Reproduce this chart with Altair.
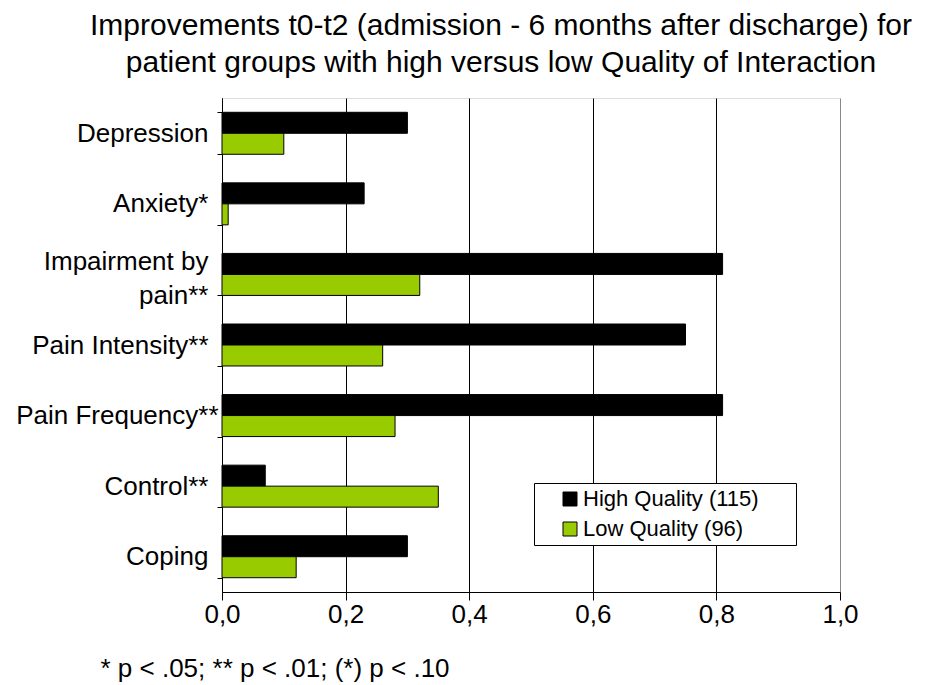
import altair as alt
import pandas as pd

categories = ["Depression", "Anxiety*", "Impairment by pain**", "Pain Intensity**",
              "Pain Frequency**", "Control**", "Coping"]
high_values = [0.30, 0.23, 0.81, 0.75, 0.81, 0.07, 0.30]
low_values = [0.10, 0.01, 0.32, 0.26, 0.28, 0.35, 0.12]
series = ["High Quality (115)", "Low Quality (96)"]
series_colors = ["#000000", "#99CC00"]
x_ticks = [0.0, 0.2, 0.4, 0.6, 0.8, 1.0]
title_lines = ["Improvements t0-t2 (admission - 6 months after discharge) for",
               "patient groups with high versus low Quality of Interaction"]
footnote = "* p < .05; ** p < .01; (*) p < .10"

rows = []
for c, h, l in zip(categories, high_values, low_values):
    rows.append({"category": c, "group": series[0], "value": h})
    rows.append({"category": c, "group": series[1], "value": l})
df = pd.DataFrame(rows)

FONT = "Liberation Sans"

chart = alt.Chart(df).mark_bar(stroke="black", strokeWidth=1).encode(
    x=alt.X(
        "value:Q",
        scale=alt.Scale(domain=[0, 1], nice=False),
        axis=alt.Axis(
            values=x_ticks,
            labelExpr="replace(format(datum.value, '.1f'), '.', ',')",
            grid=True,
            gridColor={"condition": {"test": "datum.value >= 1", "value": "#888888"}, "value": "#000000"},
            gridWidth=1,
            tickSize=8, tickColor="black", domainColor="black",
            labelFontSize=26, labelFont=FONT, labelColor="black", labelPadding=1,
            labelFlush=False,
            title=footnote, titleX=-122, titleY=84, titleAlign="left",
            titleBaseline="alphabetic", titleFontSize=26, titleFont=FONT,
            titleFontWeight="normal", titleColor="black",
        ),
    ),
    y=alt.Y(
        "category:N",
        sort=categories,
        scale=alt.Scale(paddingInner=0.405, paddingOuter=0.2025),
        axis=alt.Axis(
            title=None, tickBand="extent", tickSize=5, tickColor="black",
            domainColor="black", labelFontSize=26, labelFont=FONT, labelColor="black",
            labelPadding={"condition": {"test": "datum.label == 'Pain Frequency**'", "value": -1},
                          "value": 9},
            labelLineHeight=34, labelLimit=300,
            labelExpr="datum.label == 'Impairment by pain**' ? ['Impairment by', 'pain**'] : datum.label",
            labelOffset={"condition": {"test": "datum.label == 'Impairment by pain**'", "value": -13},
                         "value": 0},
        ),
    ),
    yOffset=alt.YOffset("group:N", sort=series, scale=alt.Scale(paddingInner=0, paddingOuter=0)),
    color=alt.Color(
        "group:N",
        sort=series,
        scale=alt.Scale(domain=series, range=series_colors),
        legend=alt.Legend(
            title=None, orient="none", legendX=312, legendY=385,
            fillColor="white", strokeColor="black", padding=5,
            symbolType="square", symbolSize=196, symbolStrokeColor="black",
            symbolStrokeWidth=1, symbolOffset=20,
            labelFontSize=22, labelFont=FONT, labelColor="black", labelOffset=2,
            rowPadding=8, labelLimit=400,
            labelExpr="datum.label + '\u2800\u2800'",
        ),
    ),
).properties(
    width=618,
    height=494,
    autosize=alt.AutoSizeParams(type="none"),
    padding={"left": 214, "top": 90, "right": 80, "bottom": 92},
    title=alt.TitleParams(
        text=title_lines, fontSize=30, font=FONT, fontWeight="normal", color="black",
        lineHeight=37, anchor="middle", frame="group", dx=-30, offset=7,
    ),
).configure_view(
    fill="#CCFFFF", stroke="#888888", strokeWidth=1
).configure(background="white")

chart.save("out.html", embed_options={"renderer": "svg", "actions": False})
